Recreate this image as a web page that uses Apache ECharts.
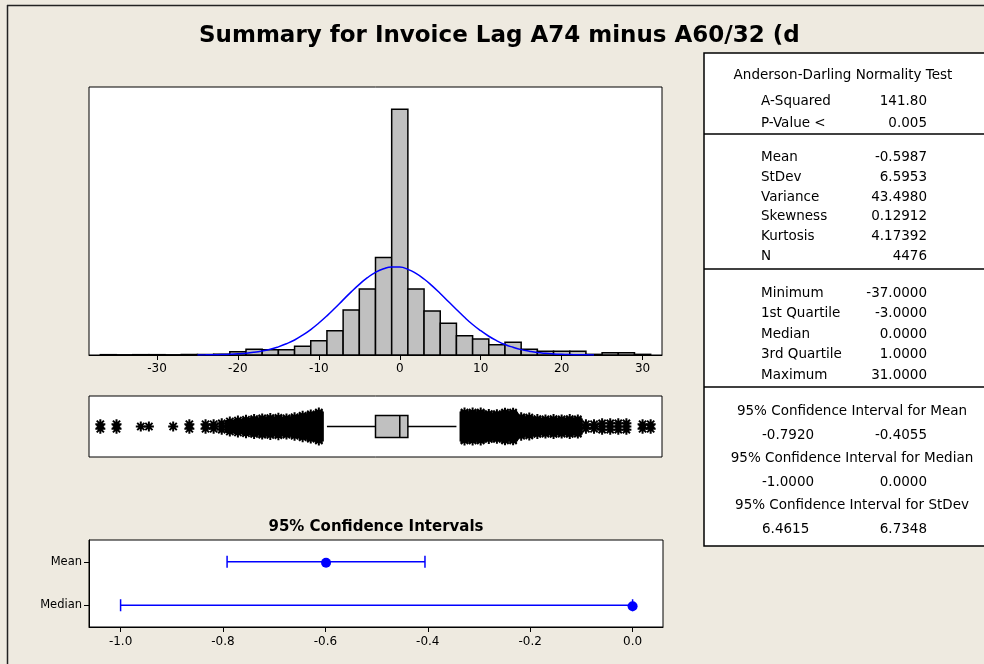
<!DOCTYPE html>
<html><head><meta charset="utf-8">
<script src="https://cdn.jsdelivr.net/npm/echarts@6/dist/echarts.min.js"></script>
<style>html,body{margin:0;padding:0;background:#EEEAE0;}#c{width:984px;height:664px;}</style>
</head><body><div id="c"></div>
<script>
// ---------- data ----------
const titleText = 'Summary for Invoice Lag A74 minus A60/32 (d';
const binWidth = 2;
const binCenters = [-36,-34,-32,-30,-28,-26,-24,-22,-20,-18,-16,-14,-12,-10,-8,-6,-4,-2,0,2,4,6,8,10,12,14,16,18,20,22,24,26,28,30];
const binCounts  = [2,1,2,2,1,3,3,5,20,35,32,32,53,88,149,276,405,597,1506,405,270,194,118,98,63,78,35,23,23,23,4,14,14,4];
const curveX = [-25,-24,-23,-22,-21,-20,-19,-18,-17,-16,-15,-14,-13,-12,-11,-10,-9,-8,-7,-6,-5,-4,-3,-2,-1,0,1,2,3,4,5,6,7,8,9,10,11,12,13,14,15,16,17,18,19,20,21,22,23,24];
const curveY = [0.6,1,1.7,2.8,4.5,7.2,11,17,25,35,50,69,92,122,156,196,240,288,338,387,433,474,507,529,540,539,525,500,466,424,377,328,279,231,187,149,115,87,64,47,33,23,15,10,6.5,4.1,2.5,1.5,0.9,0.5];
const histTicks = [-30,-20,-10,0,10,20,30];
const boxStats = [-9, -3, 0, 1, 7]; // lower whisker, Q1, median, Q3, upper whisker
const outlierValues = [-37,-35,-32,-31,-28,-26,-24,-23,-22,-21,-20,-19,-18,-17,-16,-15,-14,-13,-12,-11,-10,
                       8,9,10,11,12,13,14,15,16,17,18,19,20,21,22,23,24,25,26,27,28,30,31];
const outlierCounts = [2,2,1,1,1,2,2,2,3,6,8,10,12,14,15,16,14,18,24,30,40,
                       59,49,49,32,31,39,39,18,17,12,11,12,11,12,11,2,2,3,3,3,3,2,2];
const ciLabels = ['Mean','Median'];
const ciLow  = [-0.7920, -1.0000];
const ciHigh = [-0.4055, 0.0000];
const ciEst  = [-0.5987, 0.0000];
const ciTicks = [-1.0,-0.8,-0.6,-0.4,-0.2,0.0];
const ciTitle = '95% Confidence Intervals';
const adTitle = 'Anderson-Darling Normality Test';
const adLabels = ['A-Squared','P-Value <'];
const adValues = ['141.80','0.005'];
const momentLabels = ['Mean','StDev','Variance','Skewness','Kurtosis','N'];
const momentValues = ['-0.5987','6.5953','43.4980','0.12912','4.17392','4476'];
const quantLabels = ['Minimum','1st Quartile','Median','3rd Quartile','Maximum'];
const quantValues = ['-37.0000','-3.0000','0.0000','1.0000','31.0000'];
const ciTabTitles = ['95% Confidence Interval for Mean','95% Confidence Interval for Median','95% Confidence Interval for StDev'];
const ciTabLow  = ['-0.7920','-1.0000','6.4615'];
const ciTabHigh = ['-0.4055','0.0000','6.7348'];

// ---------- drawing ----------
const FONT = '"DejaVu Sans", Verdana, sans-serif';
const chart = echarts.init(document.getElementById('c'), null, {renderer:'canvas'});

function txt(text, x, y, align, size, bold){
  return {type:'text', silent:true, style:{text:text, x:x, y:y, fill:'#000',
    font:(bold?'bold ':'')+size+'px '+FONT, align:align, verticalAlign:'middle',
    textAlign:align, textVerticalAlign:'middle'}};
}
function hline(x1,x2,y,w){return {type:'line',silent:true,shape:{x1:x1,y1:y,x2:x2,y2:y},style:{stroke:'#000',lineWidth:w||1.5}};}

const g = [];
g.push({type:'line',silent:true,shape:{x1:7.5,y1:5,x2:7.5,y2:664},style:{stroke:'#222',lineWidth:1.5}});
g.push({type:'line',silent:true,shape:{x1:7,y1:5.5,x2:984,y2:5.5},style:{stroke:'#222',lineWidth:1.5}});
g.push(txt(titleText, 199, 36, 'left', 23, true));
g.push(txt(ciTitle, 376, 527, 'center', 15, true));
g.push({type:'rect',silent:true,shape:{x:704,y:53,width:300,height:493},style:{fill:'#fff',stroke:'#000',lineWidth:1.5}});
const TS = 13.5, LX = 761, VX = 927;
g.push(txt(adTitle, 843, 75, 'center', TS));
const adY = [101,123];
adLabels.forEach((l,i)=>{g.push(txt(l,LX,adY[i],'left',TS)); g.push(txt(adValues[i],VX,adY[i],'right',TS));});
g.push(hline(704,984,134));
const mY = [157,177,197,216,236,256];
momentLabels.forEach((l,i)=>{g.push(txt(l,LX,mY[i],'left',TS)); g.push(txt(momentValues[i],VX,mY[i],'right',TS));});
g.push(hline(704,984,269));
const qY = [293,313,334,354,375];
quantLabels.forEach((l,i)=>{g.push(txt(l,LX,qY[i],'left',TS)); g.push(txt(quantValues[i],VX,qY[i],'right',TS));});
g.push(hline(704,984,387));
const cY = [[411,435],[458,482],[505,529]];
ciTabTitles.forEach((t,i)=>{
  g.push(txt(t,852,cY[i][0],'center',TS));
  g.push(txt(ciTabLow[i],762,cY[i][1],'left',TS));
  g.push(txt(ciTabHigh[i],VX,cY[i][1],'right',TS));
});

const axisLab = {color:'#000', fontFamily:FONT, fontSize:12};

chart.setOption({
  backgroundColor:'#EEEAE0',
  animation:false,
  grid:[
    {left:89, top:87, width:573, height:268, show:true, backgroundColor:'#fff', borderColor:'#000', borderWidth:1, containLabel:false},
    {left:89, top:396, width:573, height:61, show:true, backgroundColor:'#fff', borderColor:'#000', borderWidth:1, containLabel:false},
    {left:89, top:540, width:574, height:87, show:true, backgroundColor:'#fff', borderColor:'#000', borderWidth:1, containLabel:false}
  ],
  xAxis:[
    {gridIndex:0, type:'value', min:-38.4, max:32.4,
     axisLine:{show:true, onZero:false, lineStyle:{color:'#000', width:1}},
     axisTick:{show:true, length:5, customValues:histTicks, lineStyle:{color:'#000'}},
     axisLabel:Object.assign({customValues:histTicks, margin:8}, axisLab),
     splitLine:{show:false}},
    {gridIndex:1, type:'value', min:-38.4, max:32.4, show:false},
    {gridIndex:2, type:'value', min:-1.0617, max:0.0594,
     axisLine:{show:true, onZero:false, lineStyle:{color:'#000', width:1}},
     axisTick:{show:true, length:5, customValues:ciTicks, lineStyle:{color:'#000'}},
     axisLabel:Object.assign({customValues:ciTicks, margin:9, formatter:v=>Number(v).toFixed(1)}, axisLab),
     splitLine:{show:false}}
  ],
  yAxis:[
    {gridIndex:0, type:'value', min:0, max:1643, show:false},
    {gridIndex:1, type:'value', min:-1, max:1, show:false},
    {gridIndex:2, type:'category', data:ciLabels, inverse:true, position:'left',
     axisLine:{show:true, onZero:false, lineStyle:{color:'#000', width:1}},
     axisTick:{show:true, length:5, alignWithLabel:true, lineStyle:{color:'#000'}},
     axisLabel:Object.assign({margin:7}, axisLab, {fontSize:11.5})}
  ],
  graphic:{elements:g},
  series:[
    {type:'custom', xAxisIndex:0, yAxisIndex:0, silent:true,
     data:binCenters.map((c,i)=>[c, binCounts[i]]),
     encode:{x:0, y:1},
     renderItem:function(params, api){
       const c = api.value(0), n = api.value(1);
       const p0 = api.coord([c - binWidth/2, n]);
       const p1 = api.coord([c + binWidth/2, 0]);
       return {type:'rect', shape:{x:p0[0], y:p0[1], width:p1[0]-p0[0], height:p1[1]-p0[1]},
               style:{fill:'#C0C0C0', stroke:'#000', lineWidth:1.5}};
     }},
    {type:'line', xAxisIndex:0, yAxisIndex:0, silent:true, z:5,
     data:curveX.map((x,i)=>[x, curveY[i]]), showSymbol:false, smooth:true,
     lineStyle:{color:'#0000FF', width:1.5}},
    {type:'custom', xAxisIndex:1, yAxisIndex:1, silent:true,
     data:[boxStats], encode:{x:[0,1,2,3,4]},
     renderItem:function(params, api){
       const X = v => api.coord([v,0])[0];
       const y = api.coord([0,0])[1];
       const lo=api.value(0), q1=api.value(1), md=api.value(2), q3=api.value(3), hi=api.value(4);
       const h = 11, st = {stroke:'#000', lineWidth:1.5};
       return {type:'group', children:[
         {type:'line', shape:{x1:X(lo), y1:y, x2:X(q1), y2:y}, style:st},
         {type:'line', shape:{x1:X(q3), y1:y, x2:X(hi), y2:y}, style:st},
         {type:'rect', shape:{x:X(q1), y:y-h, width:X(q3)-X(q1), height:2*h}, style:{fill:'#C0C0C0', stroke:'#000', lineWidth:1.5}},
         {type:'line', shape:{x1:X(md), y1:y-h, x2:X(md), y2:y+h}, style:st}
       ]};
     }},
    {type:'custom', xAxisIndex:1, yAxisIndex:1, silent:true,
     data:outlierValues.map((v,i)=>[v, outlierCounts[i]]), encode:{x:0},
     renderItem:function(params, api){
       const v = api.value(0), c = api.value(1);
       const p = api.coord([v, 0]);
       const S = Math.min(28, 4.5*Math.sqrt(Math.max(0,c-1)));
       const r = 5, q = r*0.72;
       let d = '';
       for (let i=0;i<c;i++){
         const y = p[1] + (c>1 ? -S/2 + S*i/(c-1) : 0);
         const x = p[0];
         d += 'M'+x+' '+(y-r)+'L'+x+' '+(y+r)+'M'+(x-r)+' '+y+'L'+(x+r)+' '+y+
              'M'+(x-q)+' '+(y-q)+'L'+(x+q)+' '+(y+q)+'M'+(x-q)+' '+(y+q)+'L'+(x+q)+' '+(y-q);
       }
       return {type:'path', shape:{pathData:d}, style:{stroke:'#000', lineWidth:2, fill:null}};
     }},
    {type:'custom', xAxisIndex:2, yAxisIndex:2, silent:true,
     data:ciLabels.map((l,i)=>[i, ciLow[i], ciHigh[i], ciEst[i]]),
     encode:{y:0, x:[1,2,3]},
     renderItem:function(params, api){
       const i = api.value(0);
       const a = api.coord([api.value(1), i]);
       const b = api.coord([api.value(2), i]);
       const e = api.coord([api.value(3), i]);
       const st = {stroke:'#0000FF', lineWidth:1.5};
       const ch = 6;
       return {type:'group', children:[
         {type:'line', shape:{x1:a[0], y1:a[1], x2:b[0], y2:b[1]}, style:st},
         {type:'line', shape:{x1:a[0], y1:a[1]-ch, x2:a[0], y2:a[1]+ch}, style:st},
         {type:'line', shape:{x1:b[0], y1:b[1]-ch, x2:b[0], y2:b[1]+ch}, style:st},
         {type:'circle', shape:{cx:e[0], cy:e[1]+1, r:5}, style:{fill:'#0000FF'}}
       ]};
     }}
  ]
});
</script></body></html>
